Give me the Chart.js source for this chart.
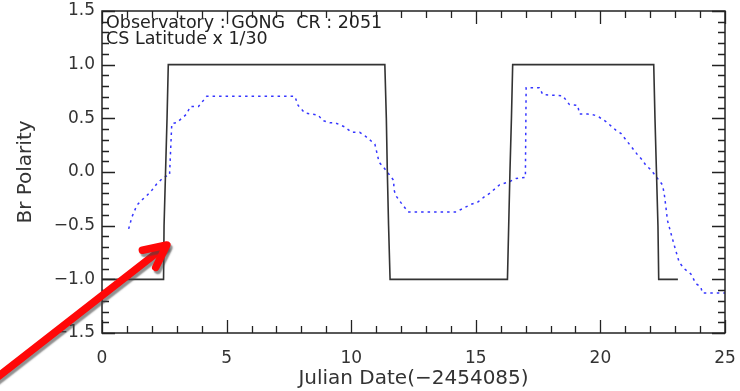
<!DOCTYPE html>
<html>
<head>
<meta charset="utf-8">
<script src="https://cdn.jsdelivr.net/npm/chart.js@4.4.1/dist/chart.umd.min.js"></script>
<style>
  html, body { margin: 0; padding: 0; background: #ffffff; }
  #wrap { width: 740px; height: 391px; }
</style>
</head>
<body>
<div id="wrap"><canvas id="c" width="740" height="391"></canvas></div>
<script>
// ---- Data ----
// Br polarity (black step line)
const polarityX = [0, 2.47, 2.49, 2.55, 2.61, 2.66, 11.35, 11.41, 11.45, 11.5, 11.56, 16.27, 16.32, 16.37, 16.43, 16.48, 22.14, 22.19, 22.25, 22.31, 22.34, 23.11];
const polarityY = [-1, -1, -0.5, 0, 0.5, 1, 1, 0.5, 0, -0.5, -1, -1, -0.5, 0, 0.5, 1, 1, 0.5, 0, -0.5, -1, -1];
// Current sheet latitude x 1/30 (blue dotted line)
const csX = [1.07, 1.2, 1.4, 1.6, 1.8, 2.0, 2.2, 2.47, 2.67, 2.71, 2.8, 3.0, 3.4, 3.54, 3.87, 4.2, 7.74, 7.87, 8.14, 8.41, 8.68, 8.85, 9.14, 9.34, 9.74, 10.01, 10.34, 10.54, 10.74, 10.95, 11.04, 11.12, 11.28, 11.48, 11.71, 11.71, 11.79, 12.01, 12.28, 14.22, 14.48, 14.82, 15.08, 15.35, 15.55, 15.95, 16.35, 16.62, 16.99, 17.02, 17.55, 17.69, 18.49, 18.75, 19.09, 19.16, 19.49, 19.76, 19.96, 20.22, 20.42, 20.62, 20.82, 20.99, 21.16, 21.36, 21.49, 21.69, 21.83, 22.03, 22.23, 22.49, 22.56, 22.63, 22.69, 22.83, 22.96, 23.16, 23.36, 23.63, 23.83, 24.03, 24.09, 25];
const csY = [-0.53, -0.42, -0.31, -0.26, -0.22, -0.17, -0.11, -0.05, -0.03, -0.03, 0.45, 0.46, 0.54, 0.61, 0.61, 0.705, 0.705, 0.62, 0.55, 0.54, 0.53, 0.48, 0.46, 0.46, 0.42, 0.37, 0.37, 0.34, 0.30, 0.26, 0.17, 0.09, 0.05, -0.01, -0.08, -0.16, -0.22, -0.29, -0.372, -0.372, -0.34, -0.30, -0.28, -0.23, -0.20, -0.12, -0.09, -0.06, -0.05, 0.786, 0.786, 0.72, 0.71, 0.63, 0.62, 0.54, 0.54, 0.53, 0.51, 0.47, 0.43, 0.39, 0.36, 0.31, 0.26, 0.20, 0.16, 0.11, 0.06, 0.02, -0.04, -0.12, -0.20, -0.33, -0.45, -0.57, -0.68, -0.84, -0.90, -0.95, -1.04, -1.07, -1.127, -1.127];
// Tick labels / text
const xTickValues = [0, 5, 10, 15, 20, 25];
const yTickValues = [-1.5, -1.0, -0.5, 0.0, 0.5, 1.0, 1.5];
const annotationLines = ["Observatory : GONG  CR : 2051", "CS Latitude x 1/30"];
const xAxisTitle = "Julian Date(\u22122454085)";
const yAxisTitle = "Br Polarity";
// Arrow annotation (data coordinates: tail -> tip)
const arrowTail = { x: -4.3, y: -1.93 };
const arrowTip = { x: 2.6, y: -0.68 };

const toPts = (xs, ys) => xs.map((x, i) => ({ x: x, y: ys[i] }));
const fmt = v => { const s = Math.abs(v).toFixed(1); return v < 0 ? "\u2212" + s : s; };

const frameColor = '#222222';
const fontFamily = '"DejaVu Sans", sans-serif';

const framePlugin = {
  id: 'frame',
  afterDraw(chart) {
    const { ctx, chartArea: a, scales } = chart;
    const xs = scales.x, ys = scales.y;
    ctx.save();
    ctx.strokeStyle = frameColor;
    ctx.lineWidth = 1.5;
    ctx.strokeRect(a.left, a.top, a.right - a.left, a.bottom - a.top);
    ctx.lineWidth = 1.3;
    ctx.beginPath();
    for (let k = -15; k <= 15; k++) {
      const v = k / 10;
      const py = Math.round(ys.getPixelForValue(v)) + 0.5;
      const len = (k % 5 === 0) ? 13 : 7;
      ctx.moveTo(a.left, py); ctx.lineTo(a.left + len, py);
      ctx.moveTo(a.right, py); ctx.lineTo(a.right - len, py);
    }
    for (let k = 0; k <= 25; k++) {
      const px = Math.round(xs.getPixelForValue(k)) + 0.5;
      const len = (k % 5 === 0) ? 13 : 7;
      ctx.moveTo(px, a.bottom); ctx.lineTo(px, a.bottom - len);
      ctx.moveTo(px, a.top); ctx.lineTo(px, a.top + len);
    }
    ctx.stroke();

    ctx.fillStyle = '#222222';
    ctx.font = '17.5px ' + fontFamily;
    ctx.textBaseline = 'alphabetic';
    ctx.textAlign = 'left';
    annotationLines.forEach((t, i) => ctx.fillText(t, a.left + 4, a.top + 16.5 + i * 16));

    const x0 = xs.getPixelForValue(arrowTail.x), y0 = ys.getPixelForValue(arrowTail.y);
    const x1 = xs.getPixelForValue(arrowTip.x), y1 = ys.getPixelForValue(arrowTip.y);
    const ang = Math.atan2(y1 - y0, x1 - x0);
    const back = ang + Math.PI;
    const headLen = 25, spread = 0.45;
    ctx.strokeStyle = '#ff0808';
    ctx.lineWidth = 7.5;
    ctx.lineCap = 'round';
    ctx.lineJoin = 'round';
    ctx.shadowColor = 'rgba(70,70,70,0.6)';
    ctx.shadowOffsetX = 2;
    ctx.shadowOffsetY = 3;
    ctx.shadowBlur = 1.5;
    ctx.beginPath();
    ctx.moveTo(x0, y0); ctx.lineTo(x1 - 3 * Math.cos(ang), y1 - 3 * Math.sin(ang));
    ctx.stroke();
    ctx.beginPath();
    ctx.moveTo(x1 + headLen * Math.cos(back - spread), y1 + headLen * Math.sin(back - spread));
    ctx.lineTo(x1, y1);
    ctx.lineTo(x1 + headLen * Math.cos(back + spread), y1 + headLen * Math.sin(back + spread));
    ctx.stroke();
    ctx.restore();
  }
};

new Chart(document.getElementById('c'), {
  type: 'line',
  data: {
    datasets: [
      {
        label: 'Br Polarity',
        data: toPts(polarityX, polarityY),
        borderColor: '#333333',
        borderWidth: 1.6,
        pointRadius: 0,
        tension: 0,
        fill: false
      },
      {
        label: 'CS Latitude x 1/30',
        data: toPts(csX, csY),
        borderColor: '#3535ff',
        borderWidth: 1.5,
        borderDash: [2.5, 4],
        pointRadius: 0,
        tension: 0,
        fill: false
      }
    ]
  },
  options: {
    responsive: false,
    animation: false,
    devicePixelRatio: 1,
    layout: { padding: { left: 0, right: 15, top: 11, bottom: 0 } },
    plugins: { legend: { display: false }, tooltip: { enabled: false } },
    scales: {
      x: {
        type: 'linear',
        min: 0, max: 25,
        afterBuildTicks: s => { s.ticks = xTickValues.map(v => ({ value: v })); },
        afterFit: s => { s.height = 58; s.paddingLeft = 0; s.paddingRight = 0; },
        grid: { display: false, drawTicks: false },
        border: { display: false },
        ticks: {
          color: '#333333',
          font: { family: fontFamily, size: 17 },
          padding: 15,
          maxRotation: 0,
          callback: v => String(v)
        },
        title: {
          display: true,
          text: xAxisTitle,
          color: '#333333',
          font: { family: fontFamily, size: 20 },
          padding: { top: 0, bottom: 0 }
        }
      },
      y: {
        type: 'linear',
        min: -1.5, max: 1.5,
        afterBuildTicks: s => { s.ticks = yTickValues.map(v => ({ value: v })); },
        afterFit: s => { s.width = 102; s.paddingTop = 0; s.paddingBottom = 0; },
        grid: { display: false, drawTicks: false },
        border: { display: false },
        ticks: {
          color: '#333333',
          font: { family: fontFamily, size: 17 },
          padding: 7,
          callback: v => fmt(v)
        },
        title: {
          display: true,
          text: yAxisTitle,
          color: '#333333',
          font: { family: fontFamily, size: 20 },
          padding: { top: 14, bottom: 0 }
        }
      }
    }
  },
  plugins: [framePlugin]
});
</script>
</body>
</html>
